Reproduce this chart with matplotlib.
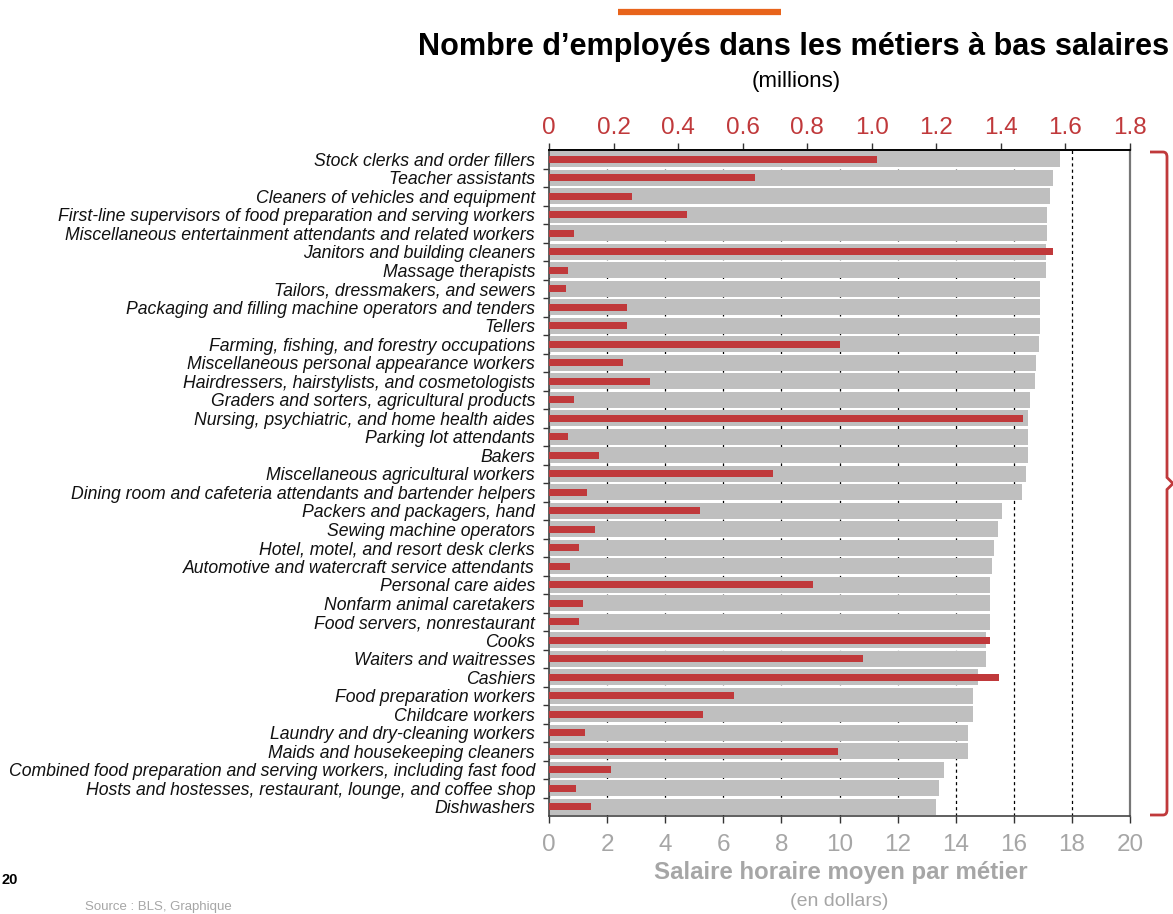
import matplotlib
matplotlib.use("Agg")
import matplotlib.pyplot as plt
from matplotlib import font_manager
from matplotlib.path import Path
from matplotlib.patches import PathPatch
from matplotlib.ticker import FixedLocator

names = {f.name for f in font_manager.fontManager.ttflist}
NARROW = "Liberation Sans Narrow" in names
FONT = ["Liberation Sans Narrow", "DejaVu Sans"] if NARROW else ["Liberation Sans", "DejaVu Sans"]
SC = 1.15 if NARROW else 1.0
plt.rcParams["font.family"] = FONT

categories = [
    "Stock clerks and order fillers",
    "Teacher assistants",
    "Cleaners of vehicles and equipment",
    "First-line supervisors of food preparation and serving workers",
    "Miscellaneous entertainment attendants and related workers",
    "Janitors and building cleaners",
    "Massage therapists",
    "Tailors, dressmakers, and sewers",
    "Packaging and filling machine operators and tenders",
    "Tellers",
    "Farming, fishing, and forestry occupations",
    "Miscellaneous personal appearance workers",
    "Hairdressers, hairstylists, and cosmetologists",
    "Graders and sorters, agricultural products",
    "Nursing, psychiatric, and home health aides",
    "Parking lot attendants",
    "Bakers",
    "Miscellaneous agricultural workers",
    "Dining room and cafeteria attendants and bartender helpers",
    "Packers and packagers, hand",
    "Sewing machine operators",
    "Hotel, motel, and resort desk clerks",
    "Automotive and watercraft service attendants",
    "Personal care aides",
    "Nonfarm animal caretakers",
    "Food servers, nonrestaurant",
    "Cooks",
    "Waiters and waitresses",
    "Cashiers",
    "Food preparation workers",
    "Childcare workers",
    "Laundry and dry-cleaning workers",
    "Maids and housekeeping cleaners",
    "Combined food preparation and serving workers, including fast food",
    "Hosts and hostesses, restaurant, lounge, and coffee shop",
    "Dishwashers",
]

hourly_wage = [
    17.60, 17.35, 17.26, 17.15, 17.15, 17.12, 17.12, 16.91, 16.91, 16.91,
    16.88, 16.77, 16.74, 16.56, 16.49, 16.49, 16.49, 16.42, 16.28, 15.61,
    15.45, 15.31, 15.24, 15.19, 15.17, 15.17, 15.06, 15.03, 14.78, 14.61,
    14.58, 14.44, 14.44, 13.61, 13.44, 13.33,
]

employees_millions = [
    1.015, 0.638, 0.256, 0.427, 0.079, 1.562, 0.060, 0.054, 0.243, 0.243,
    0.903, 0.228, 0.312, 0.079, 1.469, 0.060, 0.154, 0.694, 0.117, 0.468,
    0.142, 0.092, 0.066, 0.819, 0.104, 0.092, 1.365, 0.974, 1.395, 0.573,
    0.476, 0.113, 0.896, 0.191, 0.085, 0.129,
]

wage_ticks = [0, 2, 4, 6, 8, 10, 12, 14, 16, 18, 20]
wage_tick_labels = ["0", "2", "4", "6", "8", "10", "12", "14", "16", "18", "20"]
emp_ticks = [0, 0.2, 0.4, 0.6, 0.8, 1.0, 1.2, 1.4, 1.6, 1.8]
emp_tick_labels = ["0", "0.2", "0.4", "0.6", "0.8", "1.0", "1.2", "1.4", "1.6", "1.8"]

GRAY_BAR = "#BFBFBF"
RED = "#C0393B"
TICK_GRAY = "#A6A6A6"
ORANGE = "#E8641B"

W, H = 1173, 914
fig = plt.figure(figsize=(W / 100, H / 100), dpi=100)

x0, x1 = 549, 1130
y0, y1 = 150, 816
ax = fig.add_axes([x0 / W, 1 - y1 / H, (x1 - x0) / W, (y1 - y0) / H])

n = len(categories)
pos = list(range(n))
ax.barh(pos, hourly_wage, height=0.87, color=GRAY_BAR, zorder=2)
ax.set_xlim(0, 20)
ax.set_ylim(n - 0.5, -0.5)

# dashed grid
ax.set_axisbelow(True)
ax.xaxis.grid(True, linestyle=(0, (2.5, 2.5)), color="black", linewidth=0.9, zorder=0)

ax.set_xticks(wage_ticks)
ax.set_xticklabels(wage_tick_labels, fontsize=17.5 * SC, color=TICK_GRAY)
ax.tick_params(axis="x", direction="out", length=5, width=1, color="#333333", pad=8)

ax.set_yticks(pos)
ax.set_yticklabels(categories, fontsize=12.7 * SC, style="italic", color="#111111")
ax.tick_params(axis="y", which="major", length=0, pad=10)
ax.yaxis.set_minor_locator(FixedLocator([p + 0.5 for p in pos[:-1]]))
ax.tick_params(axis="y", which="minor", direction="out", length=4, width=1, color="#333333")

for s in ["left", "bottom"]:
    ax.spines[s].set_color("#444444")
    ax.spines[s].set_linewidth(1.2)
ax.spines["right"].set_color("#777777")
ax.spines["right"].set_linewidth(1.6)
ax.spines["top"].set_color("black")
ax.spines["top"].set_linewidth(1.2)

# twin axis for employees
ax2 = ax.twiny()
ax2.barh(pos, employees_millions, height=0.37, color=RED, zorder=3)
ax2.set_xlim(0, 1.8)
ax2.set_ylim(n - 0.5, -0.5)
ax2.set_xticks(emp_ticks)
ax2.set_xticklabels(emp_tick_labels, fontsize=17.5 * SC, color=RED)
ax2.tick_params(axis="x", direction="out", length=5, width=1, color="#333333", pad=3)
for s in ["left", "bottom", "right"]:
    ax2.spines[s].set_visible(False)
ax2.spines["top"].set_color("black")
ax2.spines["top"].set_linewidth(1.2)

# texts
fig.text(794 / W, 1 - 47 / H, "Nombre d\u2019employés dans les métiers à bas salaires",
         ha="center", va="center", fontsize=22.1 * SC, fontweight="bold", color="black")
fig.text(796 / W, 1 - 82 / H, "(millions)", ha="center", va="center",
         fontsize=16 * SC, color="black")
fig.text(841 / W, 1 - 873 / H, "Salaire horaire moyen par métier", ha="center", va="center",
         fontsize=17.3 * SC, fontweight="bold", color=TICK_GRAY)
fig.text(839 / W, 1 - 902 / H, "(en dollars)", ha="center", va="center",
         fontsize=14 * SC, color=TICK_GRAY)
fig.text(1 / W, 1 - 880 / H, "20", ha="left", va="center",
         fontsize=10.5 * SC, fontweight="bold", color="black")
fig.text(85 / W, 1 - 913 / H, "Source : BLS, Graphique", ha="left", va="bottom",
         fontsize=9.5 * SC, color=TICK_GRAY)

# overlay for decorations
ov = fig.add_axes([0, 0, 1, 1], zorder=10)
ov.set_xlim(0, W)
ov.set_ylim(H, 0)
ov.axis("off")
ov.patch.set_alpha(0)
ov.plot([618, 781], [11.5, 11.5], color=ORANGE, linewidth=4.5, solid_capstyle="butt")

bx_l, bx, bx_t = 1150, 1167, 1173
top, bot = 152, 815
mid = (top + bot) / 2
verts = [
    (bx_l, top), (bx - 4, top), (bx, top), (bx, top + 5),
    (bx, mid - 6), (bx_t, mid), (bx, mid + 6),
    (bx, bot - 5), (bx, bot), (bx - 4, bot), (bx_l, bot),
]
codes = [Path.MOVETO, Path.LINETO, Path.CURVE3, Path.CURVE3,
         Path.LINETO, Path.LINETO, Path.LINETO,
         Path.LINETO, Path.CURVE3, Path.CURVE3, Path.LINETO]
ov.add_patch(PathPatch(Path(verts, codes), facecolor="none", edgecolor=RED, linewidth=2))

fig.savefig("out.png", dpi=100)
